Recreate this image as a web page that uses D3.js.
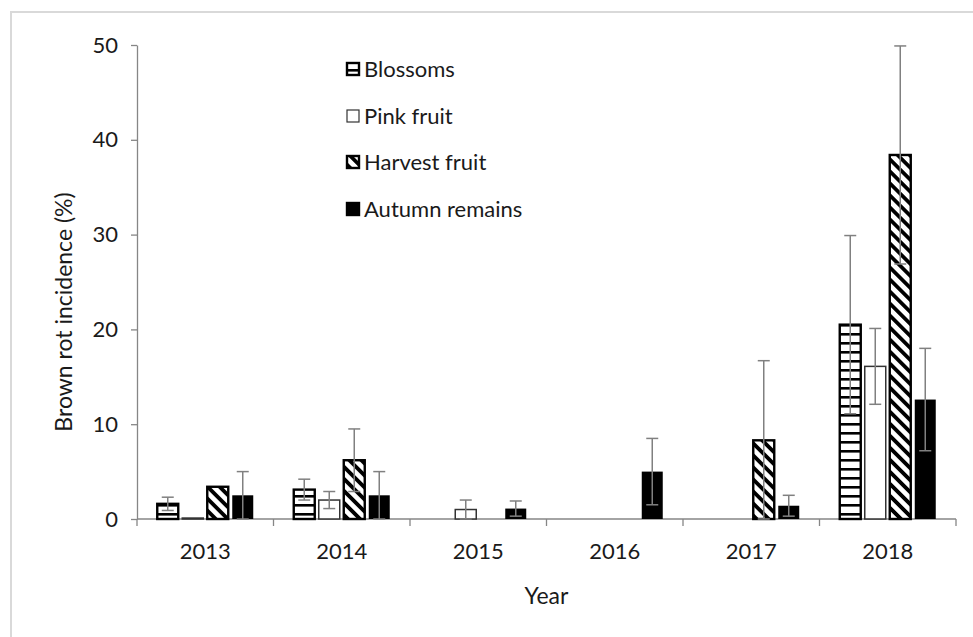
<!DOCTYPE html>
<html>
<head>
<meta charset="utf-8">
<script src="https://cdn.jsdelivr.net/npm/d3@7"></script>
<style>
  html, body { margin: 0; padding: 0; background: #fff; }
  text { font-family: Lato, "Open Sans", sans-serif; fill: #1a1a1a; }
</style>
</head>
<body>
<svg id="chart" width="973" height="637"></svg>
<script>
// data
const years = ["2013", "2014", "2015", "2016", "2017", "2018"];
const seriesNames = ["Blossoms", "Pink fruit", "Harvest fruit", "Autumn remains"];
const blossoms = [1.6, 3.1, 0, 0, 0, 20.5];
const blossomsErr = [0.7, 1.1, 0, 0, 0, 9.4];
const pinkFruit = [0.1, 2.0, 1.0, 0, 0, 16.1];
const pinkFruitErr = [0, 0.9, 1.0, 0, 0, 4.0];
const harvestFruit = [3.4, 6.2, 0, 0, 8.3, 38.4];
const harvestFruitErr = [0, 3.3, 0, 0, 8.4, 11.5];
const autumnRemains = [2.5, 2.5, 1.1, 5.0, 1.4, 12.6];
const autumnRemainsErr = [2.5, 2.5, 0.8, 3.5, 1.1, 5.4];
const yTicks = [0, 10, 20, 30, 40, 50];

const values = [blossoms, pinkFruit, harvestFruit, autumnRemains];
const errors = [blossomsErr, pinkFruitErr, harvestFruitErr, autumnRemainsErr];

const svg = d3.select("#chart");
const margin = { left: 137, right: 17, top: 45, bottom: 118 };
const W = 973, H = 637;
const axisColor = "#868686";

// frame of the figure
svg.append("rect").attr("x", 11).attr("y", 12).attr("width", 980).attr("height", 640)
    .attr("fill", "none").attr("stroke", "#d9d9d9").attr("stroke-width", 2);

const defs = svg.append("defs");
const hp = defs.append("pattern").attr("id", "hstripe").attr("patternUnits", "userSpaceOnUse")
    .attr("width", 10).attr("height", 9);
hp.append("rect").attr("width", 10).attr("height", 9).attr("fill", "#fff");
hp.append("rect").attr("width", 10).attr("height", 2.6).attr("fill", "#000");

const dp = defs.append("pattern").attr("id", "dstripe").attr("patternUnits", "userSpaceOnUse")
    .attr("width", 8.5).attr("height", 8.5).attr("patternTransform", "rotate(45)");
dp.append("rect").attr("width", 8.5).attr("height", 8.5).attr("fill", "#fff");
dp.append("rect").attr("width", 8.5).attr("height", 3.8).attr("fill", "#000");

const fills = ["url(#hstripe)", "#fff", "url(#dstripe)", "#000"];
const strokes = ["#000", "#333", "#000", "#000"];
const strokeW = [2.4, 1.5, 2.4, 0];

const x = d3.scaleBand().domain(years).range([margin.left, W - margin.right]).padding(0);
const y = d3.scaleLinear().domain([0, 50]).range([H - margin.bottom, margin.top]);
const groupPad = 20.25;
const xs = d3.scaleBand().domain(d3.range(4))
    .range([groupPad, x.bandwidth() - groupPad]).paddingInner(0.16).paddingOuter(0);

// y axis
const yAxis = svg.append("g").attr("transform", `translate(${margin.left},0)`)
    .call(d3.axisLeft(y).tickValues(yTicks).tickSize(6).tickSizeOuter(0).tickPadding(13));
yAxis.select(".domain").attr("stroke", axisColor).attr("stroke-width", 1.3);
yAxis.selectAll(".tick line").attr("stroke", axisColor).attr("stroke-width", 1.3);
yAxis.selectAll(".tick text").attr("font-size", 22).style("font-family", "Lato").attr("fill", "#222");

// x axis
const xAxisG = svg.append("g").attr("transform", `translate(0,${y(0)})`);
xAxisG.append("line").attr("x1", x.range()[0]).attr("x2", x.range()[1])
    .attr("stroke", axisColor).attr("stroke-width", 1.3);
const bounds = years.map(d => x(d)).concat([x.range()[1]]);
xAxisG.selectAll("line.tk").data(bounds).join("line").attr("class", "tk")
    .attr("x1", d => d).attr("x2", d => d).attr("y1", 0).attr("y2", 7)
    .attr("stroke", axisColor).attr("stroke-width", 1.3);
xAxisG.selectAll("text").data(years).join("text")
    .attr("x", d => x(d) + x.bandwidth() / 2).attr("y", 40)
    .attr("text-anchor", "middle").attr("font-size", 22).text(d => d);

// bars
const barData = [];
values.forEach((arr, s) => arr.forEach((v, i) => {
    if (v > 0) barData.push({ s, year: years[i], v, e: errors[s][i] });
}));

svg.append("g").selectAll("rect").data(barData).join("rect")
    .attr("x", d => x(d.year) + xs(d.s))
    .attr("y", d => y(d.v))
    .attr("width", xs.bandwidth())
    .attr("height", d => y(0) - y(d.v))
    .attr("fill", d => fills[d.s])
    .attr("stroke", d => strokeW[d.s] ? strokes[d.s] : "none")
    .attr("stroke-width", d => strokeW[d.s]);

// error bars
const errG = svg.append("g").attr("stroke", "#808080").attr("stroke-width", 1.5).attr("fill", "none");
barData.filter(d => d.e > 0).forEach(d => {
    const cx = x(d.year) + xs(d.s) + xs.bandwidth() / 2;
    const top = y(d.v + d.e), bot = y(Math.max(0, d.v - d.e));
    errG.append("line").attr("x1", cx).attr("x2", cx).attr("y1", top).attr("y2", bot);
    errG.append("line").attr("x1", cx - 6).attr("x2", cx + 6).attr("y1", top).attr("y2", top);
    errG.append("line").attr("x1", cx - 6).attr("x2", cx + 6).attr("y1", bot).attr("y2", bot);
});

// axis titles
svg.append("text").attr("x", (x.range()[0] + x.range()[1]) / 2).attr("y", 604)
    .attr("text-anchor", "middle").attr("font-size", 23).text("Year");
svg.append("text").attr("transform", "translate(72,312) rotate(-90)")
    .attr("text-anchor", "middle").attr("font-size", 23).text("Brown rot incidence (%)");

// legend
const legend = svg.append("g").attr("transform", "translate(347,0)");
const rowY = [69, 116, 162, 209];
seriesNames.forEach((name, s) => {
    const g = legend.append("g").attr("transform", `translate(0,${rowY[s]})`);
    g.append("rect").attr("x", 0).attr("y", -6).attr("width", 12).attr("height", 12)
        .attr("fill", fills[s])
        .attr("stroke", s === 3 ? "#000" : strokes[s])
        .attr("stroke-width", s === 1 ? 1.2 : 2.4);
    g.append("text").attr("x", 17).attr("y", 8).attr("font-size", 22).text(name);
});
</script>
</body>
</html>
